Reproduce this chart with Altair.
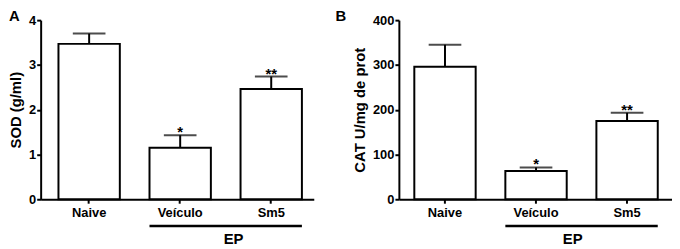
import altair as alt
import pandas as pd

groups = ["Naive", "Veículo", "Sm5"]
sod_mean = [3.47, 1.15, 2.46]
sod_upper = [3.70, 1.43, 2.74]
cat_mean = [296, 63, 175]
cat_upper = [345, 71, 193]
signif = ["", "*", "**"]
sod_ticks = [0, 1, 2, 3, 4]
cat_ticks = [0, 100, 200, 300, 400]
bracket = {"start": "Veículo", "end": "Sm5", "label": "EP"}

FONT = "Liberation Sans"
W, H = 276, 181


def panel(means, upper, ticks, ytitle, letter, align, letter_dx, ep_dx):
    df = pd.DataFrame({"g": groups, "m": means, "e": upper, "s": signif})
    xscale = alt.Scale(domain=groups, paddingInner=0.326, paddingOuter=0.163, align=align)
    yscale = alt.Scale(domain=[ticks[0], ticks[-1]], nice=False)
    xenc = alt.X("g:N", scale=xscale, sort=groups,
                 axis=alt.Axis(title=None, labelAngle=0, labelPadding=3))
    base = alt.Chart(df)
    bars = base.mark_bar(fill="white", stroke="black", strokeWidth=2).encode(
        x=xenc,
        y=alt.Y("m:Q", scale=yscale,
                axis=alt.Axis(values=ticks, title=ytitle, format="d",
                              labelPadding=1, titlePadding=5)),
    )
    stem = base.mark_rule(color="black", strokeWidth=2).encode(
        x=alt.X("g:N", scale=xscale, sort=groups), y="m:Q", y2="e:Q")
    cap = base.mark_tick(color="black", size=33, thickness=2).encode(
        x=alt.X("g:N", scale=xscale, sort=groups), y="e:Q")
    stars = base.mark_text(font=FONT, fontWeight="bold", fontSize=15,
                           baseline="alphabetic", dy=2).encode(
        x=alt.X("g:N", scale=xscale, sort=groups), y="e:Q", text="s:N")
    bdf = pd.DataFrame([bracket])
    line = alt.Chart(bdf).mark_rule(color="black", strokeWidth=2.5).encode(
        x=alt.X("start:N", scale=xscale, bandPosition=0),
        x2=alt.X2("end:N", bandPosition=1),
        y=alt.value(H + 27),
    )
    eplab = alt.Chart(bdf).mark_text(font=FONT, fontWeight="bold", fontSize=15,
                                     baseline="top", dx=15 + ep_dx).encode(
        x=alt.X("start:N", scale=xscale, bandPosition=1),
        y=alt.value(H + 33),
        text="label:N",
    )
    lab = alt.Chart(pd.DataFrame({"t": [letter]})).mark_text(
        font=FONT, fontWeight="bold", fontSize=15, align="left", baseline="top"
    ).encode(x=alt.value(letter_dx), y=alt.value(-11), text="t:N")
    return alt.layer(bars, stem, cap, stars, line, eplab, lab).properties(width=W, height=H)


a = panel(sod_mean, sod_upper, sod_ticks, "SOD (g/ml)", "A", 0.6, -32, 8)
b = panel(cat_mean, cat_upper, cat_ticks, "CAT U/mg de prot", "B", 0.52, -64, -9)

chart = alt.hconcat(a, b, spacing=22, padding=0).configure_view(stroke=None).configure_axis(
    grid=False,
    domainColor="black", domainWidth=2,
    tickColor="black", tickWidth=2, tickSize=4,
    labelFont=FONT, labelFontWeight="bold", labelFontSize=13, labelColor="black",
    titleFont=FONT, titleFontWeight="bold", titleFontSize=15, titleColor="black",
)

chart.save("out.html", embed_options={"renderer": "svg", "actions": False})
